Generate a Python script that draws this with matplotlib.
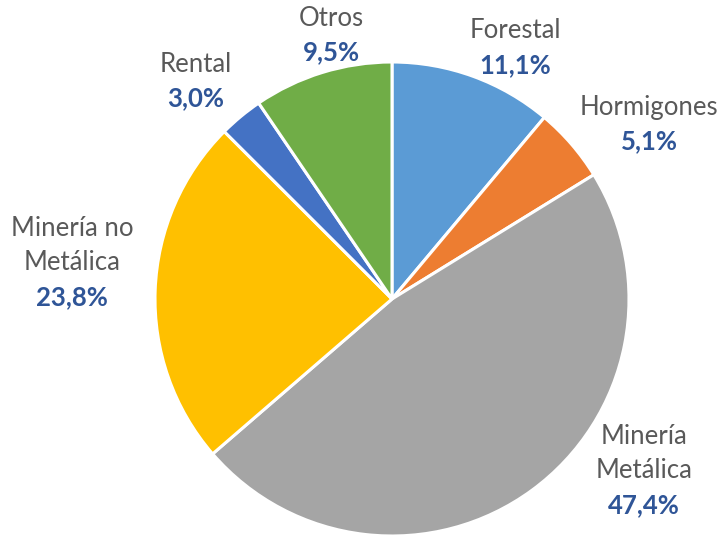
import matplotlib
matplotlib.use("Agg")
import matplotlib.pyplot as plt

categories = ["Forestal", "Hormigones", "Minería\nMetálica", "Minería no\nMetálica", "Rental", "Otros"]
values = [11.1, 5.1, 47.4, 23.8, 3.0, 9.5]
pct_labels = ["11,1%", "5,1%", "47,4%", "23,8%", "3,0%", "9,5%"]
colors = ["#5B9BD5", "#ED7D31", "#A5A5A5", "#FFC000", "#4472C4", "#70AD47"]
# pixel position (center) of the percent line of each label
pct_pos_px = [(515, 65), (649, 141), (644, 505), (72, 297), (196, 98), (331, 52)]

W, H = 718, 537
fig = plt.figure(figsize=(W / 100, H / 100), dpi=100)
cx, cy, r = 392, 299, 237
ax = fig.add_axes([(cx - r) / W, (H - cy - r) / H, 2 * r / W, 2 * r / H])
ax.pie(values, colors=colors, startangle=90, counterclock=False,
       wedgeprops=dict(edgecolor="white", linewidth=2.2), radius=1)
ax.set_xlim(-1, 1)
ax.set_ylim(-1, 1)
ax.set_aspect("equal")
ax.axis("off")

font = "Lato"
fs = 18.5
pitch = 34
for name, pct, (px, py) in zip(categories, pct_labels, pct_pos_px):
    lines = name.split("\n")
    n = len(lines)
    for i, ln in enumerate(lines):
        ly = py - pitch * (n - i)
        fig.text(px / W, 1 - ly / H, ln, ha="center", va="center",
                 fontsize=fs, family=font, color="#595959")
    fig.text(px / W, 1 - py / H, pct, ha="center", va="center",
             fontsize=fs, family=font, color="#2F5597", fontweight="bold")

fig.savefig("out.png", dpi=100)
